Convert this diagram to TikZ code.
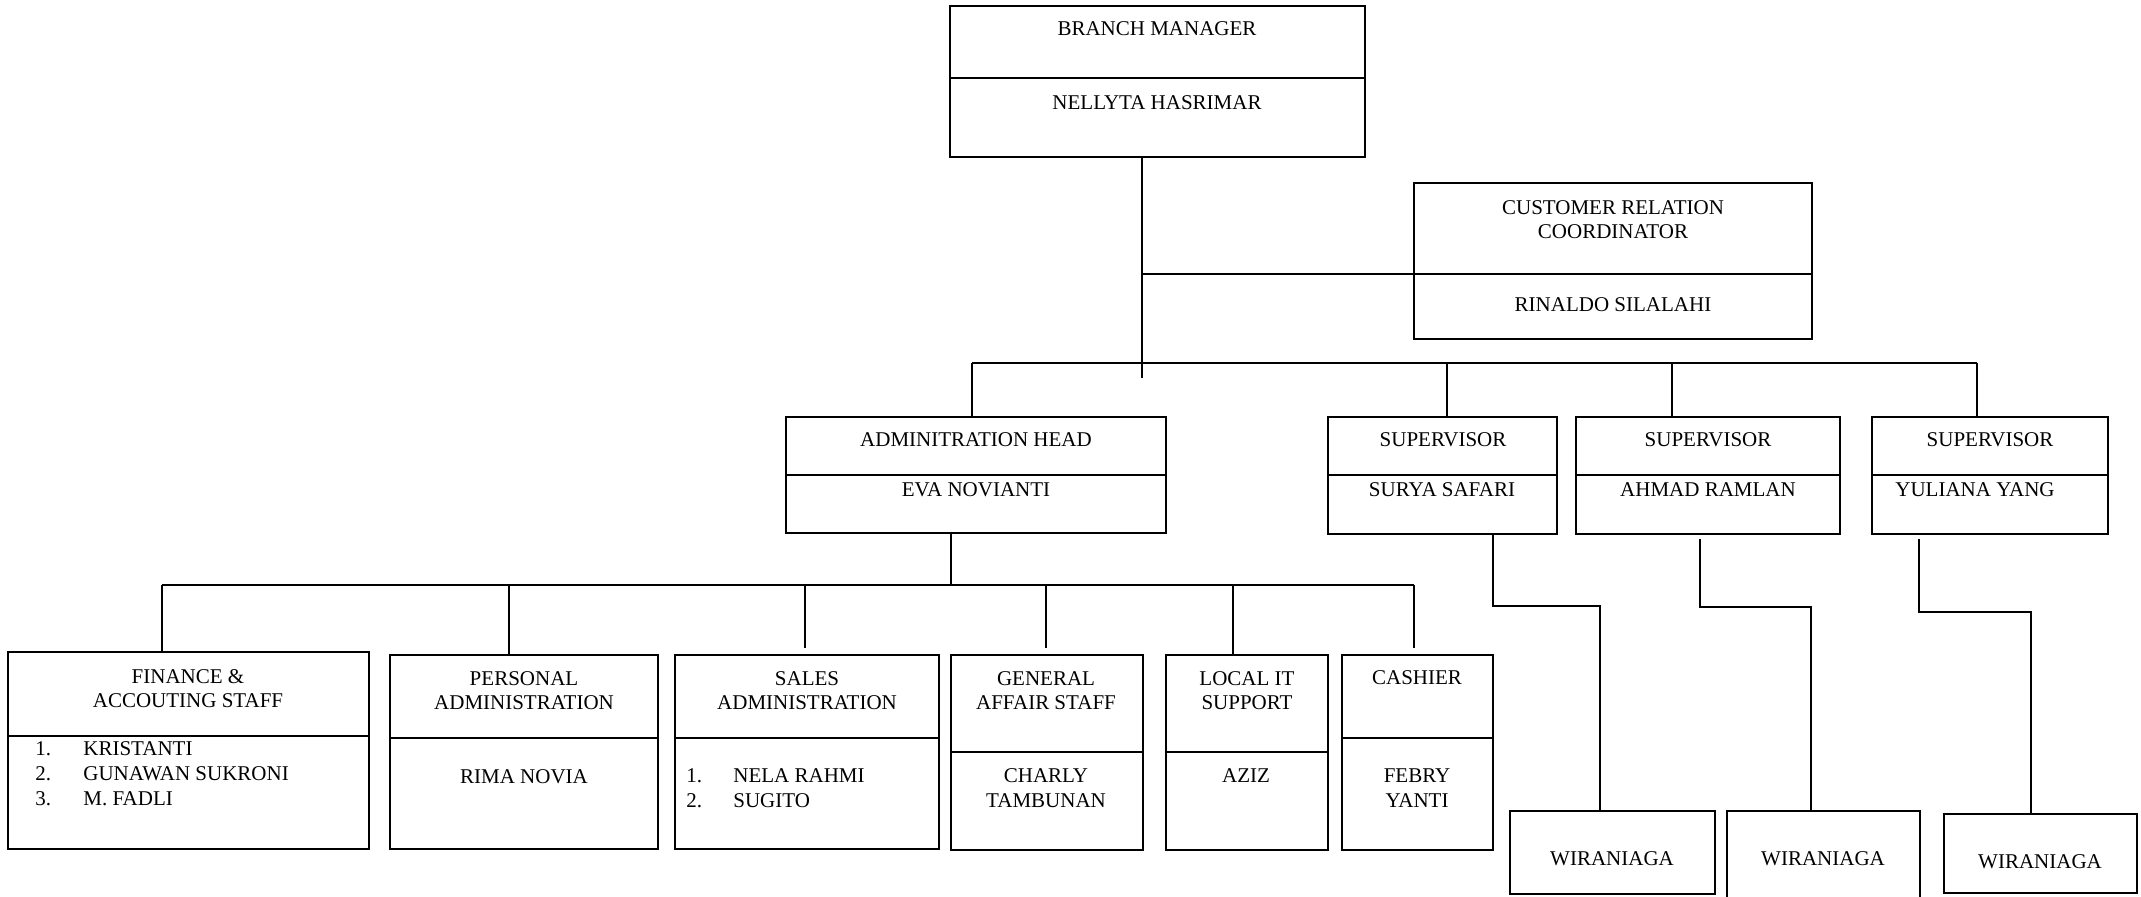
\documentclass[tikz,border=0pt]{standalone}
\usepackage{fontspec}
\setmainfont{Liberation Serif}
\usepackage{tikz}
\usetikzlibrary{positioning, calc}

\tikzset{
  unitbox/.style={draw, line width=0.8pt, inner sep=0pt, outer sep=0pt},
  unittext/.style={inner sep=0pt, align=center, font=\fontsize{10.5}{12.2}\selectfont},
  listtext/.style={unittext, anchor=west},
  link/.style={line width=0.55pt}
}

% box with a divider: name, left, top, right, bottom, divider
\newcommand{\orgunit}[6]{%
  \node[unitbox, minimum width={(#4-#2)*0.5pt}, minimum height={(#5-#3)*0.5pt}]
    (#1) at ({(#2+#4)/2},{(#3+#5)/2}) {};
  \draw[line width=0.8pt] (#1.west |- #2,#6) -- (#1.east |- #2,#6);
}

\begin{document}
\begin{tikzpicture}[x=0.5pt,y=-0.5pt]
\useasboundingbox (0,0) rectangle (2141,896);

% boxes
\orgunit{bm}{950}{6}{1365}{157}{78}
\orgunit{crc}{1414}{183}{1812}{339}{274}
\orgunit{ah}{786}{417}{1166}{533}{475}
\orgunit{s1}{1328}{417}{1557}{534}{475}
\orgunit{s2}{1576}{417}{1840}{534}{475}
\orgunit{s3}{1872}{417}{2108}{534}{475}
\orgunit{fin}{8}{652}{369}{849}{736}
\orgunit{pers}{390}{655}{658}{849}{738}
\orgunit{sales}{675}{655}{939}{849}{738}
\orgunit{gen}{951}{655}{1143}{850}{752}
\orgunit{lit}{1166}{655}{1328}{850}{752}
\orgunit{cash}{1342}{655}{1493}{850}{738}
\node[unitbox, minimum width=102.5pt, minimum height=41.5pt] (w1) at (1612.5,852.5) {};
\node[unitbox, minimum width=96.5pt, minimum height=49.5pt] (w2) at (1823.5,860.5) {};
\node[unitbox, minimum width=96.5pt, minimum height=39.5pt] (w3) at (2040.5,853.5) {};

% texts
\node[unittext] (bm-t) at (1157,29) {BRANCH MANAGER};
\node[unittext] (bm-n) at (1157,103) {NELLYTA HASRIMAR};
\node[unittext] (crc-t) at (1613,219.5) {CUSTOMER RELATION\\COORDINATOR};
\node[unittext] (crc-n) at (1613,305) {RINALDO SILALAHI};
\node[unittext] (ah-t) at (976,440) {ADMINITRATION HEAD};
\node[unittext] (ah-n) at (976,490) {EVA NOVIANTI};
\node[unittext] (s1-t) at (1443,440) {SUPERVISOR};
\node[unittext] (s1-n) at (1442,490) {SURYA SAFARI};
\node[unittext] (s2-t) at (1708,440) {SUPERVISOR};
\node[unittext] (s2-n) at (1708,490) {AHMAD RAMLAN};
\node[unittext] (s3-t) at (1990,440) {SUPERVISOR};
\node[unittext] (s3-n) at (1975,490) {YULIANA YANG};
\node[unittext] (fin-t) at (188,688.5) {FINANCE \&\\ACCOUTING STAFF};
\foreach \y/\i/\who in {749/1/KRISTANTI, 774/2/GUNAWAN SUKRONI, 799/3/M. FADLI} {
  \node[listtext] (fin-i\i) at (35,\y) {\i.};
  \node[listtext] (fin-n\i) at (83,\y) {\who};
}
\node[unittext] (pers-t) at (524,690.5) {PERSONAL\\ADMINISTRATION};
\node[unittext] (pers-n) at (524,777) {RIMA NOVIA};
\node[unittext] (sales-t) at (807,690.5) {SALES\\ADMINISTRATION};
\foreach \y/\i/\who in {776/1/NELA RAHMI, 801/2/SUGITO} {
  \node[listtext] (sales-i\i) at (686,\y) {\i.};
  \node[listtext] (sales-n\i) at (733,\y) {\who};
}
\node[unittext] (gen-t) at (1046,690.5) {GENERAL\\AFFAIR STAFF};
\node[unittext] (gen-n) at (1046,788) {CHARLY\\TAMBUNAN};
\node[unittext] (lit-t) at (1247,690.5) {LOCAL IT\\SUPPORT};
\node[unittext] (lit-n) at (1246,776) {AZIZ};
\node[unittext] (cash-t) at (1417,678) {CASHIER};
\node[unittext] (cash-n) at (1417,788) {FEBRY\\YANTI};
\node[unittext] (w1-t) at (1612,859) {WIRANIAGA};
\node[unittext] (w2-t) at (1823,859) {WIRANIAGA};
\node[unittext] (w3-t) at (2040,862) {WIRANIAGA};

% connectors
\coordinate (bmend) at (1142,378);
\coordinate (crcjoint) at (1142,274);
\coordinate (topbus-l) at (972,363);
\coordinate (topbus-r) at (1977,363);
\coordinate (lowbus-l) at (162,585);
\coordinate (lowbus-r) at (1414,585);
\draw[link] (bm.south -| bmend) -- (bmend);
\draw[link] (crcjoint) -- (crcjoint -| crc.west);
\draw[link] (topbus-l) -- (topbus-r);
\draw[link] (topbus-l) -- (topbus-l |- ah.north);
\foreach \x/\n in {1447/s1, 1672/s2, 1977/s3}
  \draw[link] (\x,363) -- (\x,363 |- \n.north);
\draw[link] (ah.south -| 951,0) -- (951,585);
\draw[link] (lowbus-l) -- (lowbus-r);
\foreach \x/\n in {162/fin, 509/pers, 1233/lit}
  \draw[link] (\x,585) -- (\x,585 |- \n.north);
\foreach \x in {805, 1046, 1414}
  \draw[link] (\x,585) -- (\x,648);
\draw[link] (s1.south -| 1493,0) -- (1493,606) -| (1600,0 |- w1.north);
\draw[link] (1700,539) -- (1700,607) -| (1811,0 |- w2.north);
\draw[link] (1919,539) -- (1919,612) -| (2031,0 |- w3.north);
\end{tikzpicture}
\end{document}
